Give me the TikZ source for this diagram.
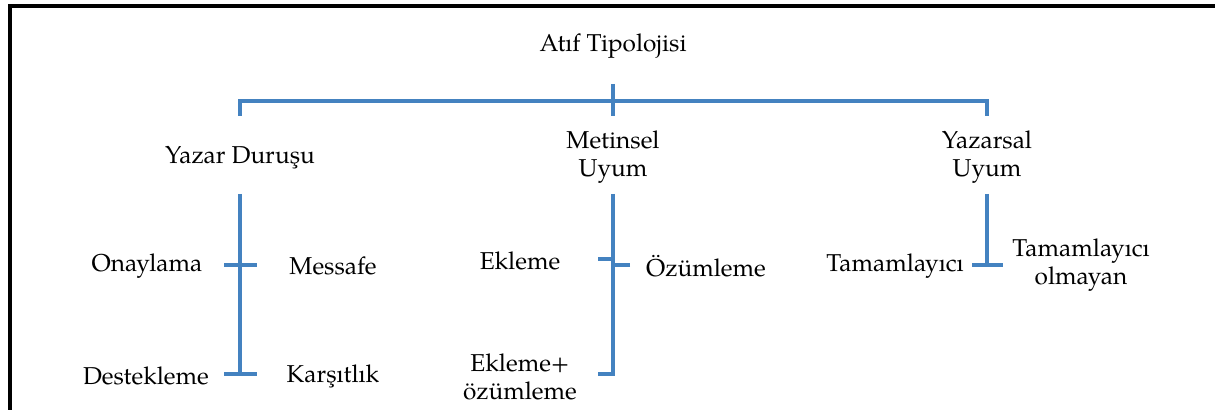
\documentclass[tikz,border=0pt]{standalone}
\usepackage{fontspec}
\setmainfont{TeX Gyre Pagella}
\definecolor{linkblue}{RGB}{68,130,192}

\begin{document}
\begin{tikzpicture}[x=0.5pt,y=-0.5pt,
  label/.style={inner sep=0pt,align=center,font=\fontsize{12.2}{14}\selectfont},
  link/.style={draw=linkblue,line width=1.7pt}]
\useasboundingbox (0,0) rectangle (1215,410);
\draw[line width=1.6pt] (1215,6) -- (10,6) -- (10,410);

\node[label] (root) at (613,46) {Atıf Tipolojisi};
\node[label] (yd) at (240,158) {Yazar Duruşu};
\node[label] (mu) at (613,157) {Metinsel\\Uyum};
\node[label] (yu) at (987,157) {Yazarsal\\Uyum};
\node[label] (ona) at (147,266) {Onaylama};
\node[label] (mes) at (333,266) {Messafe};
\node[label] (des) at (146,376) {Destekleme};
\node[label] (kar) at (333,376) {Karşıtlık};
\node[label] (ekl) at (520,261) {Ekleme};
\node[label] (ozu) at (706,266) {Özümleme};
\node[label] (ekoz) at (520,377) {Ekleme+\\özümleme};
\node[label] (tam) at (895,266) {Tamamlayıcı};
\node[label] (tamo) at (1081,265) {Tamamlayıcı\\olmayan};

\coordinate (rtop) at (613,84);
\coordinate (rbot) at (613,116);
\coordinate (bar) at (613,101);
\coordinate (ydtop) at (240,116);
\coordinate (yutop) at (987,116);
\draw[link] (rtop) -- (rbot);
\draw[link] (ydtop) |- (bar) -| (yutop);

\coordinate (yd1) at (240,194);
\coordinate (yd2) at (240,374);
\coordinate (ona1) at (224,265);
\coordinate (mes1) at (257,265);
\coordinate (des1) at (224,374);
\coordinate (kar1) at (257,374);
\draw[link] (yd1) -- (yd2);
\draw[link] (ona1) -- (mes1);
\draw[link] (des1) -- (kar1);

\coordinate (mu1) at (613,194);
\coordinate (mu2) at (613,374);
\coordinate (ekl1) at (598,259);
\coordinate (ozu1) at (630,265);
\coordinate (ekoz1) at (598,374);
\draw[link] (mu1) -- (mu2) -- (ekoz1);
\draw[link] (ekl1) -- (ekl1 -| mu1);
\draw[link] (ozu1) -- (ozu1 -| mu1);

\coordinate (yu1) at (987,194);
\coordinate (yu2) at (987,265);
\coordinate (tam1) at (972,265);
\coordinate (tamo1) at (1003,265);
\draw[link] (yu1) -- (yu2);
\draw[link] (tam1) -- (tamo1);
\end{tikzpicture}
\end{document}
